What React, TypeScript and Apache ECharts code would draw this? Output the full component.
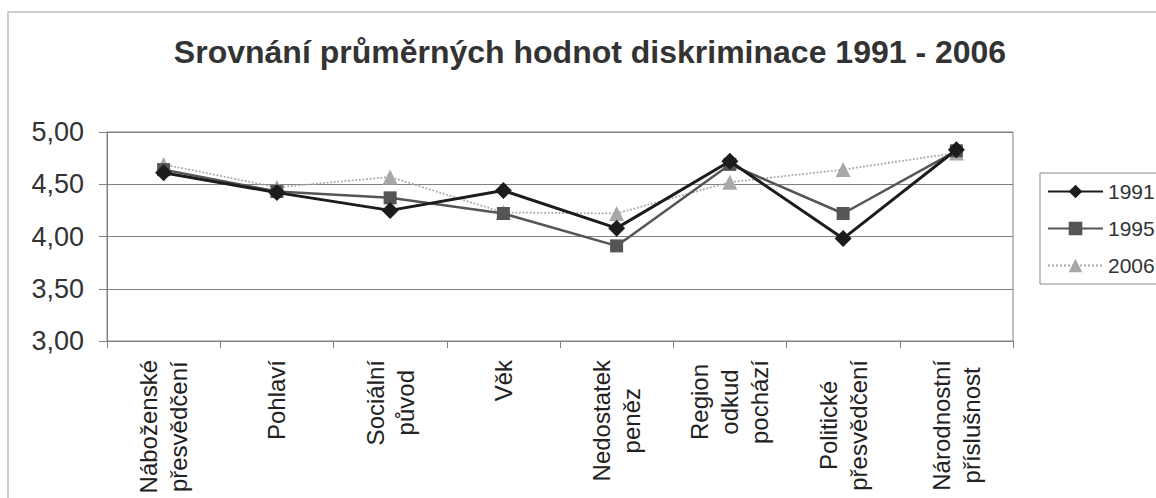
import React, { useEffect, useRef } from "react";
import * as echarts from "echarts";

const titleText = "Srovnání průměrných hodnot diskriminace 1991 - 2006";
const categories = [
  "Náboženské\npřesvědčení",
  "Pohlaví",
  "Sociální\npůvod",
  "Věk",
  "Nedostatek\npeněz",
  "Region\nodkud\npochází",
  "Politické\npřesvědčení",
  "Národnostní\npříslušnost",
];
const seriesNames = ["1991", "1995", "2006"];
const values1991 = [4.61, 4.42, 4.25, 4.44, 4.08, 4.72, 3.98, 4.83];
const values1995 = [4.64, 4.43, 4.37, 4.22, 3.91, 4.69, 4.22, 4.82];
const values2006 = [4.69, 4.47, 4.57, 4.23, 4.22, 4.52, 4.64, 4.8];
const yMin = 3;
const yMax = 5;
const yStep = 0.5;

const FONT = "'Liberation Sans', Arial, sans-serif";

export default function App() {
  const ref = useRef<HTMLDivElement>(null);
  useEffect(() => {
    document.body.style.margin = "0";
    const chart = echarts.init(ref.current!, undefined, { renderer: "svg" });
    chart.setOption({
      animation: false,
      backgroundColor: "#ffffff",
      textStyle: { fontFamily: FONT },
      graphic: [
        {
          type: "polyline",
          shape: { points: [[8, 498], [8, 12], [1156, 12]] },
          style: { stroke: "#bdbdbd", lineWidth: 1.5, fill: "none" },
          silent: true,
        },
      ],
      title: {
        text: titleText,
        left: 585,
        textAlign: "center",
        top: 31,
        textStyle: { fontSize: 32, fontWeight: "bold", color: "#333", fontFamily: FONT },
      },
      legend: {
        orient: "vertical",
        left: 1040,
        top: 173,
        padding: [8, 3, 8, 7],
        itemWidth: 55,
        itemHeight: 17,
        itemGap: 16,
        borderColor: "#888",
        borderWidth: 1,
        textStyle: { fontSize: 21, color: "#333", fontFamily: FONT },
        data: seriesNames,
      },
      grid: {
        left: 107,
        top: 132,
        right: 143,
        bottom: 157,
        show: true,
        borderColor: "#808080",
        borderWidth: 1,
        backgroundColor: "transparent",
      },
      xAxis: {
        type: "category",
        data: categories,
        boundaryGap: true,
        axisLine: { lineStyle: { color: "#808080", width: 1 } },
        axisTick: { show: true, length: 7, lineStyle: { color: "#808080" } },
        axisLabel: {
          interval: 0,
          rotate: 90,
          margin: 19,
          formatter: (v: string) =>
            v
              .split("\n")
              .map((s) => "{c|" + s + "}")
              .join("\n"),
          rich: {
            c: {
              align: "center",
              fontSize: 24,
              lineHeight: 30,
              color: "#222",
              fontFamily: FONT,
            },
          },
        },
      },
      yAxis: {
        type: "value",
        min: yMin,
        max: yMax,
        interval: yStep,
        axisLine: { show: true, lineStyle: { color: "#808080", width: 1 } },
        axisTick: { show: true, length: 8, lineStyle: { color: "#808080" } },
        axisLabel: {
          margin: 23,
          fontSize: 27,
          color: "#333",
          fontFamily: FONT,
          formatter: (v: number) => v.toFixed(2).replace(".", ","),
        },
        splitLine: { lineStyle: { color: "#808080", width: 1 } },
      },
      series: [
        {
          name: seriesNames[0],
          type: "line",
          data: values1991,
          symbol: "diamond",
          symbolSize: 17,
          color: "#1c1c1c",
          lineStyle: { color: "#1c1c1c", width: 3 },
          itemStyle: { color: "#1c1c1c" },
          z: 4,
        },
        {
          name: seriesNames[1],
          type: "line",
          data: values1995,
          symbol: "rect",
          symbolSize: 13,
          color: "#555555",
          lineStyle: { color: "#555555", width: 2.5 },
          itemStyle: { color: "#555555" },
          z: 3,
        },
        {
          name: seriesNames[2],
          type: "line",
          data: values2006,
          symbol: "triangle",
          symbolSize: 15,
          color: "#a8a8a8",
          lineStyle: { color: "#a8a8a8", width: 1.8, type: "dotted" },
          itemStyle: { color: "#a8a8a8" },
          z: 2,
        },
      ],
    });
    return () => chart.dispose();
  }, []);
  return <div ref={ref} style={{ width: 1156, height: 498 }} />;
}
